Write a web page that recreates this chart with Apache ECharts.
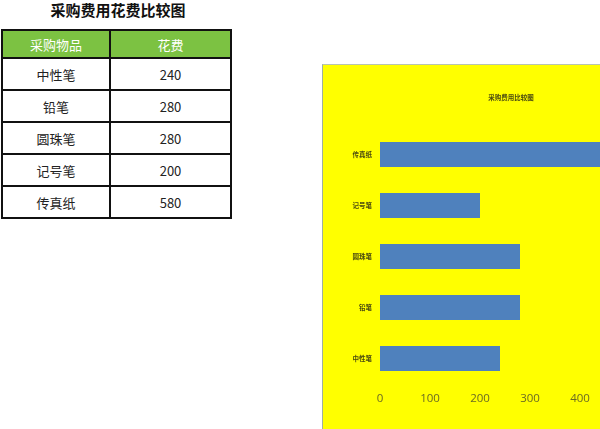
<!DOCTYPE html>
<html>
<head>
<meta charset="utf-8">
<script src="https://cdn.jsdelivr.net/npm/echarts@6/dist/echarts.min.js"></script>
<style>
html,body{margin:0;padding:0;width:600px;height:429px;overflow:hidden;background:#fff;font-family:"Noto Sans CJK SC","Noto Sans",sans-serif;}
#title{position:absolute;left:0;top:0;width:236px;height:20px;line-height:20px;text-align:center;font-size:15px;font-weight:bold;color:#111;}
#tbl{position:absolute;left:1px;top:29px;border-collapse:collapse;}
#tbl td,#tbl th{border:2px solid #111;text-align:center;font-size:13px;color:#222;font-weight:normal;padding:0;}
#tbl th{background:#7cc242;color:#fff;height:26px;}
#tbl td{height:30px;}
#chartWrap{position:absolute;left:322px;top:64px;width:440px;height:366px;background:#ffff00;border-left:1px solid #9fb0a0;border-top:1px solid #b8c4b0;}
#chart{width:440px;height:366px;}
</style>
</head>
<body>
<div id="title"></div>
<table id="tbl"></table>
<div id="chartWrap"><div id="chart"></div></div>
<script>
var pageTitle = '采购费用花费比较图';
var chartTitle = '采购费用比较图';
var headers = ['采购物品', '花费'];
var items = ['中性笔', '铅笔', '圆珠笔', '记号笔', '传真纸'];
var costs = [240, 280, 280, 200, 580];
var xMin = 0, xMax = 700, xStep = 100;

document.getElementById('title').textContent = pageTitle;
var tbl = document.getElementById('tbl');
var html = '<tr><th style="width:106px">' + headers[0] + '</th><th style="width:119px">' + headers[1] + '</th></tr>';
for (var i = 0; i < items.length; i++) {
  html += '<tr><td>' + items[i] + '</td><td>' + costs[i] + '</td></tr>';
}
tbl.innerHTML = html;

var chart = echarts.init(document.getElementById('chart'), null, {renderer: 'canvas'});
chart.setOption({
  backgroundColor: 'transparent',
  animation: false,
  title: {
    text: chartTitle,
    left: 183, top: 24,
    textAlign: 'center',
    textStyle: {fontSize: 6.5, color: '#4a4a10', fontWeight: 'bold', fontFamily: 'Noto Sans CJK SC'}
  },
  grid: {left: 57, top: 64, width: 350, height: 255, containLabel: false},
  xAxis: {
    type: 'value', min: xMin, max: xMax, interval: xStep,
    axisLine: {show: false}, axisTick: {show: false}, splitLine: {show: false},
    axisLabel: {color: '#6a6a24', fontSize: 11.5, margin: 9, fontFamily: 'Open Sans'}
  },
  yAxis: {
    type: 'category', data: items,
    axisLine: {show: false}, axisTick: {show: false}, splitLine: {show: false},
    axisLabel: {color: '#4a4a10', fontSize: 6.5, fontWeight: 'bold', margin: 8, fontFamily: 'Noto Sans CJK SC'}
  },
  series: [{
    type: 'bar', data: costs, barWidth: 25,
    itemStyle: {color: '#4f81bd'}
  }]
});
</script>
</body>
</html>
